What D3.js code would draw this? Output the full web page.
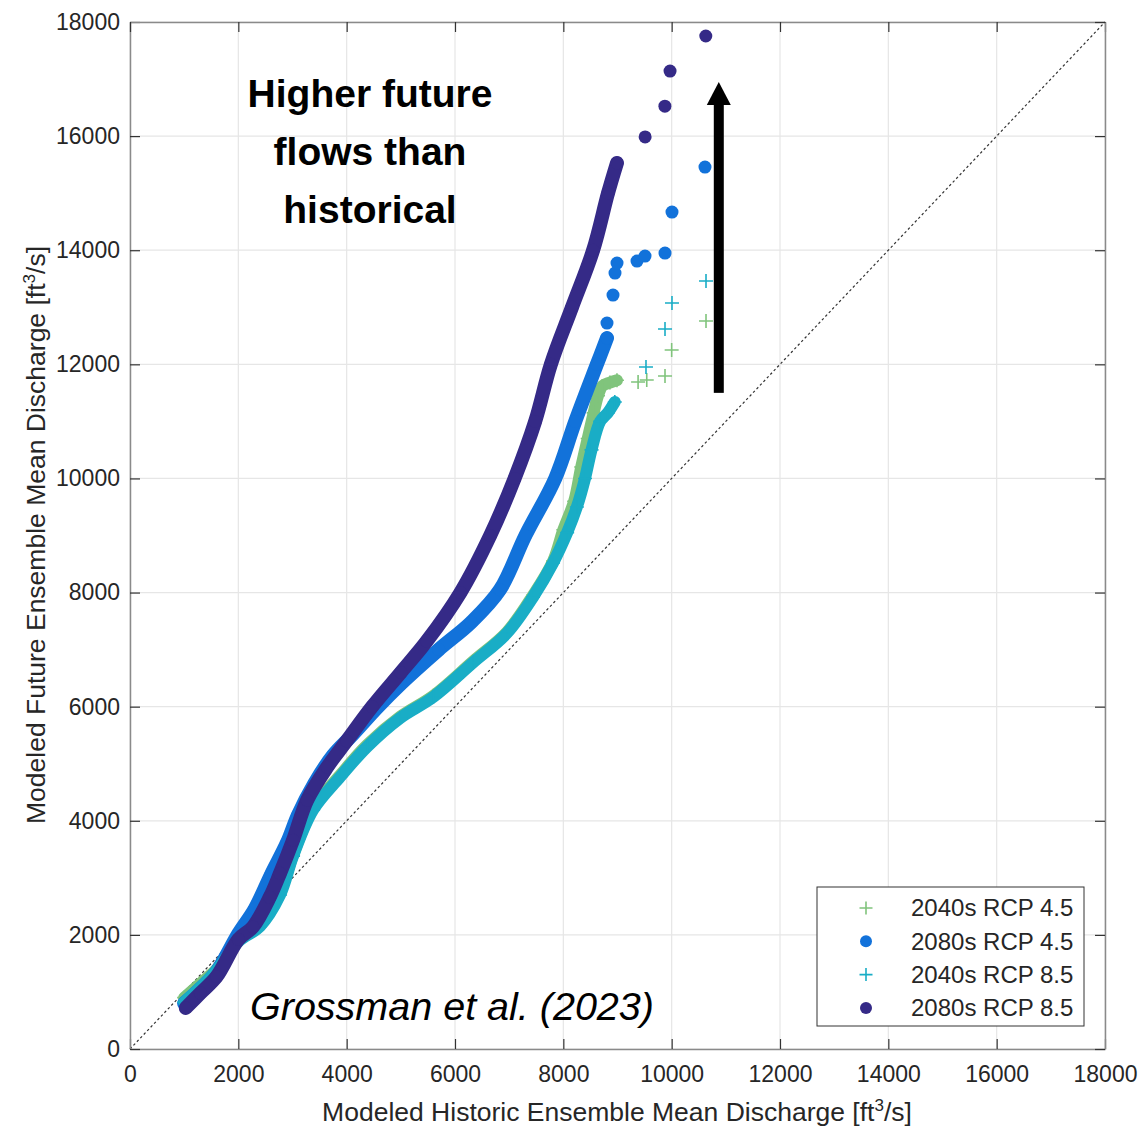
<!DOCTYPE html>
<html>
<head>
<meta charset="utf-8">
<script src="https://cdn.jsdelivr.net/npm/d3@7"></script>
<style>
body { margin: 0; background: #fff; }
svg text { font-family: "Liberation Sans", Arial, sans-serif; }
</style>
</head>
<body>
<svg id="chart" width="1143" height="1130"></svg>
<script>

// axis ticks
var xTicks = [0, 2000, 4000, 6000, 8000, 10000, 12000, 14000, 16000, 18000];
var yTicks = [0, 2000, 4000, 6000, 8000, 10000, 12000, 14000, 16000, 18000];

// series: dense part of the Q-Q curve (band) and the sparse tail
var green45Band = [[1000,900],[1300,1150],[1600,1400],[2000,1900],[2400,2200],[2770,2750],[3010,3400],[3380,4220],[3880,4800],[4380,5330],[4985,5820],[5600,6190],[6330,6790],[6960,7310],[7440,7950],[7810,8550],[8000,9100],[8200,9600],[8330,10200],[8450,10700],[8560,11150],[8640,11450],[8720,11620],[8860,11680],[8990,11720]];
var green45Tail = [[9380,11690],[9540,11725],[9877,11795],[10000,12250],[10634,12760]];

var blue45Band = [[1000,800],[1300,1060],[1600,1360],[2000,2020],[2300,2450],[2600,3050],[2900,3620],[3100,4100],[3400,4650],[3750,5150],[4100,5500],[4560,5980],[5000,6400],[5700,7000],[6300,7480],[6830,8050],[7300,9000],[7850,10000],[8220,11000],[8620,12000],[8806,12460]];
var blue45Tail = [[8806,12723],[8917,13214],[8954,13600],[8991,13775],[9360,13810],[9508,13898],[9877,13950],[10006,14669],[10615,15457]];

var teal85Band = [[1000,820],[1300,1080],[1600,1380],[2000,1880],[2400,2150],[2770,2700],[3010,3380],[3380,4190],[3880,4770],[4380,5300],[4985,5800],[5600,6170],[6330,6770],[6960,7290],[7440,7920],[7810,8520],[8070,9050],[8250,9500],[8400,10000],[8520,10500],[8680,11000],[8820,11150],[8950,11340]];
var teal85Tail = [[9526,11952],[9877,12618],[10006,13074],[10634,13460]];

var purple85Band = [[1030,720],[1300,980],[1600,1270],[2000,1920],[2270,2140],[2580,2660],[2770,3080],[3010,3660],[3270,4360],[3640,4940],[4000,5400],[4470,6000],[5000,6600],[5480,7150],[6100,8000],[6650,9000],[7100,10000],[7480,11000],[7770,12000],[8160,13000],[8550,14000],[8825,15000],[8990,15530]];
var purple85Tail = [[9510,15985],[9875,16525],[9970,17140],[10630,17755]];

var seriesNames = ["2040s RCP 4.5", "2080s RCP 4.5", "2040s RCP 8.5", "2080s RCP 8.5"];
var seriesColors = ["#80c47c", "#1272da", "#19adc6", "#352a87"];
var seriesMarkers = ["plus", "dot", "plus", "dot"];
var seriesBands = [green45Band, blue45Band, teal85Band, purple85Band];
var seriesTails = [green45Tail, blue45Tail, teal85Tail, purple85Tail];

// annotation anchors, in data units
var noteLines = ["Higher future", "flows than", "historical"];
var arrowX = 10870, arrowFrom = 11500, arrowTo = 16950;

var svg = d3.select("#chart");
var x = d3.scaleLinear().domain([0, 18000]).range([130, 1105]);
var y = d3.scaleLinear().domain([0, 18000]).range([1049, 22]);

var plot = svg.append("g");

// grid
plot.selectAll(".gx").data(xTicks).enter().append("line")
  .attr("x1", d => x(d)).attr("x2", d => x(d))
  .attr("y1", y(0)).attr("y2", y(18000))
  .attr("stroke", "#e6e6e6").attr("stroke-width", 1.2);
plot.selectAll(".gy").data(yTicks).enter().append("line")
  .attr("y1", d => y(d)).attr("y2", d => y(d))
  .attr("x1", x(0)).attr("x2", x(18000))
  .attr("stroke", "#e6e6e6").attr("stroke-width", 1.2);

// 1:1 line
plot.append("line")
  .attr("x1", x(0)).attr("y1", y(0)).attr("x2", x(18000)).attr("y2", y(18000))
  .attr("stroke", "#333").attr("stroke-width", 1.2).attr("stroke-dasharray", "2.5,2.5");

var line = d3.line().x(d => x(d[0])).y(d => y(d[1])).curve(d3.curveCatmullRom);

function marker(sel, kind, color, size) {
  if (kind == "dot") {
    sel.append("circle").attr("r", size).attr("fill", color);
  } else {
    sel.append("path").attr("d", "M" + (-size) + ",0H" + size + "M0," + (-size) + "V" + size)
      .attr("stroke", color).attr("stroke-width", 1.6).attr("fill", "none");
  }
}

seriesNames.forEach(function(name, i) {
  var g = plot.append("g");
  var w = seriesMarkers[i] == "dot" ? 14 : 12;
  g.append("path").datum(seriesBands[i])
    .attr("d", line)
    .attr("fill", "none").attr("stroke", seriesColors[i])
    .attr("stroke-width", w).attr("stroke-linecap", "round").attr("stroke-linejoin", "round");
  var pts = seriesBands[i].concat(seriesTails[i]);
  g.selectAll(".m").data(pts).enter().append("g")
    .attr("transform", d => "translate(" + x(d[0]) + "," + y(d[1]) + ")")
    .each(function() { marker(d3.select(this), seriesMarkers[i], seriesColors[i], seriesMarkers[i] == "dot" ? 6.5 : 7); });
});

// axes (ticks inside, box on)
var fmt = d3.format("d");
var axB = svg.append("g").attr("transform", "translate(0," + y(0) + ")")
  .call(d3.axisBottom(x).tickValues(xTicks).tickFormat(fmt).tickSizeInner(-10).tickSizeOuter(0).tickPadding(17));
var axL = svg.append("g").attr("transform", "translate(" + x(0) + ",0)")
  .call(d3.axisLeft(y).tickValues(yTicks).tickFormat(fmt).tickSizeInner(-10).tickSizeOuter(0).tickPadding(10));
var axT = svg.append("g").attr("transform", "translate(0," + y(18000) + ")")
  .call(d3.axisTop(x).tickValues(xTicks).tickFormat("").tickSizeInner(-10).tickSizeOuter(0));
var axR = svg.append("g").attr("transform", "translate(" + x(18000) + ",0)")
  .call(d3.axisRight(y).tickValues(yTicks).tickFormat("").tickSizeInner(-10).tickSizeOuter(0));

[axB, axL, axT, axR].forEach(function(a) {
  a.select(".domain").attr("stroke", "#8a8a8a").attr("stroke-width", 1.5);
  a.selectAll(".tick line").attr("stroke", "#333").attr("stroke-width", 1.2);
  a.selectAll(".tick text").attr("fill", "#262626").style("font-size", "23px");
});

// axis labels
var xl = svg.append("text").attr("x", 617).attr("y", 1121)
  .attr("text-anchor", "middle").attr("fill", "#262626").style("font-size", "26.5px");
xl.append("tspan").text("Modeled Historic Ensemble Mean Discharge [ft");
xl.append("tspan").attr("dy", -10).style("font-size", "17px").text("3");
xl.append("tspan").attr("dy", 10).text("/s]");

var yl = svg.append("text").attr("transform", "translate(45,535) rotate(-90)")
  .attr("text-anchor", "middle").attr("fill", "#262626").style("font-size", "26.5px");
yl.append("tspan").text("Modeled Future Ensemble Mean Discharge [ft");
yl.append("tspan").attr("dy", -10).style("font-size", "17px").text("3");
yl.append("tspan").attr("dy", 10).text("/s]");

// annotation
svg.selectAll(".note").data(noteLines).enter().append("text")
  .attr("x", 370).attr("y", (d, i) => 107 + i * 58)
  .attr("text-anchor", "middle").attr("fill", "#000")
  .style("font-size", "39px").style("font-weight", "bold")
  .text(d => d);

svg.append("text").attr("x", 250).attr("y", 1020)
  .attr("fill", "#000").style("font-size", "39.5px").style("font-style", "italic")
  .text("Grossman et al. (2023)");

// arrow
var ax = x(arrowX);
var tipY = y(arrowTo);
svg.append("rect").attr("x", ax - 5).attr("width", 10)
  .attr("y", tipY + 20).attr("height", y(arrowFrom) - tipY - 20)
  .attr("fill", "#000");
svg.append("path")
  .attr("d", "M" + ax + "," + tipY + "L" + (ax + 12) + "," + (tipY + 23) + "L" + (ax - 12) + "," + (tipY + 23) + "Z")
  .attr("fill", "#000");

// legend
var lg = svg.append("g").attr("transform", "translate(817,887)");
lg.append("rect").attr("width", 267).attr("height", 139)
  .attr("fill", "#fff").attr("stroke", "#333").attr("stroke-width", 1);
seriesNames.forEach(function(name, i) {
  var row = lg.append("g").attr("transform", "translate(0," + (21 + i * 33.3) + ")");
  var mk = row.append("g").attr("transform", "translate(49,0)");
  marker(mk, seriesMarkers[i], seriesColors[i], seriesMarkers[i] == "dot" ? 6 : 6.5);
  row.append("text").attr("x", 94).attr("dy", "0.35em")
    .attr("fill", "#262626").style("font-size", "24px").text(name);
});

</script>
</body>
</html>
